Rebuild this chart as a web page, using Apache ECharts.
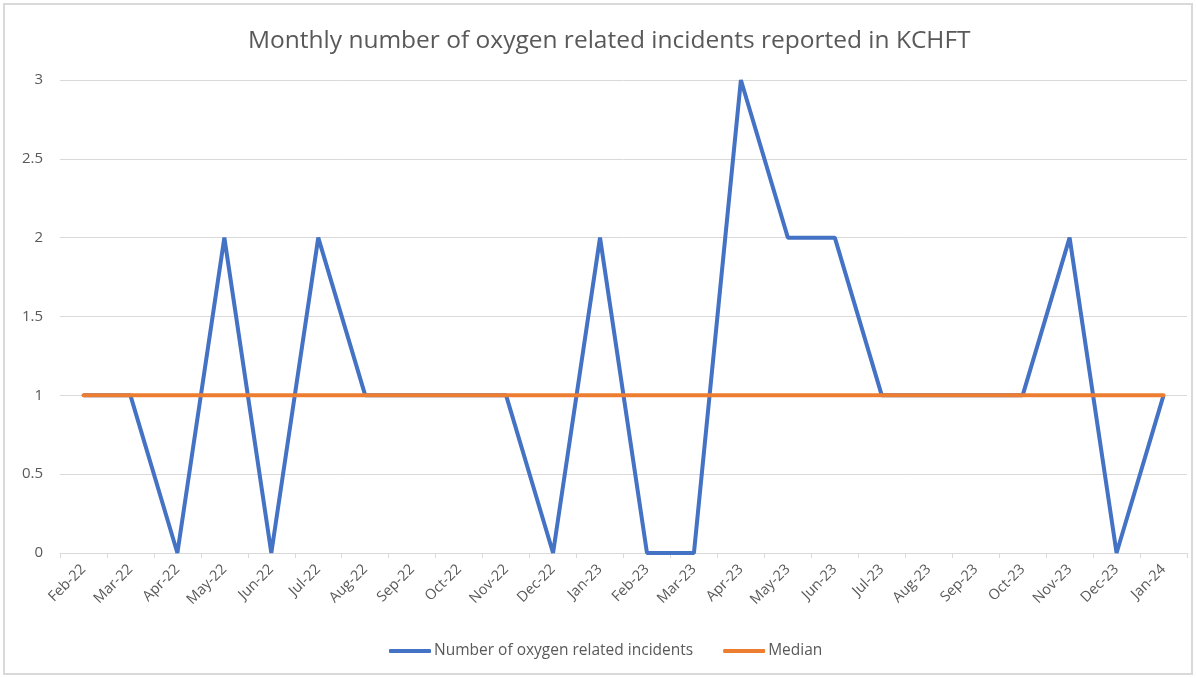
<!DOCTYPE html>
<html><head><meta charset="utf-8">
<script src="https://cdn.jsdelivr.net/npm/echarts@6/dist/echarts.min.js"></script>
<style>
html,body{margin:0;padding:0;background:#fff;}
#frame{position:absolute;left:3px;top:3px;width:1190px;height:672px;border:2px solid #d9d9d9;box-sizing:border-box;}
#c{position:absolute;left:0;top:0;width:1196px;height:678px;}
</style></head>
<body>
<div id="frame"></div>
<div id="c"></div>
<script>
const categories = ["Feb-22","Mar-22","Apr-22","May-22","Jun-22","Jul-22","Aug-22","Sep-22","Oct-22","Nov-22","Dec-22","Jan-23","Feb-23","Mar-23","Apr-23","May-23","Jun-23","Jul-23","Aug-23","Sep-23","Oct-23","Nov-23","Dec-23","Jan-24"];
const incidents = [1,1,0,2,0,2,1,1,1,1,0,2,0,0,3,2,2,1,1,1,1,2,0,1];
const median = [1,1,1,1,1,1,1,1,1,1,1,1,1,1,1,1,1,1,1,1,1,1,1,1];
const yTicks = [0,0.5,1,1.5,2,2.5,3];

const chart = echarts.init(document.getElementById('c'), null, {renderer:'canvas'});
const font = '"Open Sans", "Noto Sans", sans-serif';
chart.setOption({
  animation:false,
  title:{text:'Monthly number of oxygen related incidents reported in KCHFT', left:243, top:24,
    textStyle:{fontFamily:font, fontSize:24.5, fontWeight:'normal', color:'#595959'}},
  grid:{left:60, right:9, top:80, bottom:125, containLabel:false},
  legend:{bottom:14, left:384, itemWidth:42, itemHeight:4, itemGap:30,
    icon:'roundRect',
    textStyle:{fontFamily:font, fontSize:15.5, color:'#595959', padding:[0,0,0,-2]},
    data:['Number of oxygen related incidents','Median']},
  xAxis:{type:'category', data:categories, boundaryGap:true,
    axisLine:{lineStyle:{color:'#d9d9d9', width:1}},
    axisTick:{show:true, length:5, lineStyle:{color:'#d9d9d9'}},
    axisLabel:{rotate:45, color:'#595959', fontFamily:font, fontSize:14.5, margin:14, interval:0}},
  yAxis:{type:'value', min:0, max:3, interval:0.5,
    axisLine:{show:false}, axisTick:{show:false},
    splitLine:{lineStyle:{color:'#d9d9d9', width:1}},
    axisLabel:{color:'#595959', fontFamily:font, fontSize:15, margin:17,
      formatter:v=> yTicks.includes(v)? String(v):''}},
  series:[
    {name:'Number of oxygen related incidents', type:'line', data:incidents, symbol:'none',
      lineStyle:{color:'#4472C4', width:4}, itemStyle:{color:'#4472C4'}, z:2},
    {name:'Median', type:'line', data:median, symbol:'none',
      lineStyle:{color:'#ED7D31', width:4, cap:'round'}, itemStyle:{color:'#ED7D31'}, z:3}
  ]
});
</script>
</body></html>
